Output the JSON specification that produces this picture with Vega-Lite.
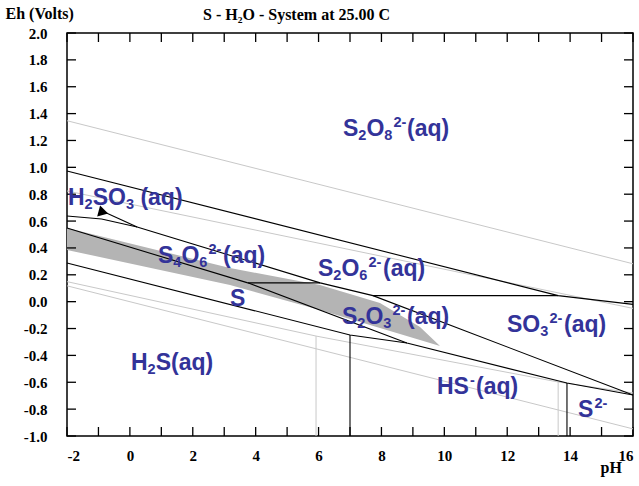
{
  "$schema": "https://vega.github.io/schema/vega-lite/v6.json",
  "width": 566,
  "height": 403,
  "autosize": "none",
  "padding": {"left": 67, "top": 33, "right": 6, "bottom": 50},
  "background": "white",
  "config": {
    "view": {"stroke": "black", "strokeWidth": 1.5},
    "locale": {"number": {"decimal": ".", "thousands": ",", "grouping": [3], "currency": ["$", ""], "minus": "-"}},
    "axis": {
      "grid": false, "domain": false,
      "labelColor": "black", "labelFont": "Liberation Serif", "labelFontWeight": "bold", "labelFontSize": 15,
      "titleFont": "Liberation Serif", "titleFontWeight": "bold", "titleFontSize": 16, "titleColor": "black"
    }
  },
  "title": {"text": "S - H₂O - System at 25.00 C", "anchor": "start", "frame": "group", "dx": 136, "offset": 15, "dy": 46,
    "font": "Liberation Serif", "fontSize": 16, "fontWeight": "bold", "color": "black", "baseline": "alphabetic"},
  "datasets": {
    "band": [
      {"pH": -2, "top": 0.548, "bot": 0.385},
      {"pH": 3.184, "top": 0.251, "bot": 0.124},
      {"pH": 6.046, "top": 0.124, "bot": -0.062},
      {"pH": 7.954, "top": -0.01, "bot": -0.196},
      {"pH": 8.59, "top": -0.0995, "bot": -0.241},
      {"pH": 9.226, "top": -0.189, "bot": -0.285},
      {"pH": 9.862, "top": -0.33, "bot": -0.33}
    ],
    "xt": [{"v": -2}, {"v": -1}, {"v": 0}, {"v": 1}, {"v": 2}, {"v": 3}, {"v": 4}, {"v": 5}, {"v": 6}, {"v": 7}, {"v": 8}, {"v": 9}, {"v": 10}, {"v": 11}, {"v": 12}, {"v": 13}, {"v": 14}, {"v": 15}, {"v": 16}],
    "yt": [{"v": -1}, {"v": -0.8}, {"v": -0.6}, {"v": -0.4}, {"v": -0.2}, {"v": 0}, {"v": 0.2}, {"v": 0.4}, {"v": 0.6}, {"v": 0.8}, {"v": 1}, {"v": 1.2}, {"v": 1.4}, {"v": 1.6}, {"v": 1.8}, {"v": 2}],
    "gray": [
      {"id": "g1", "o": 1, "pH": -2, "Eh": 1.347}, {"id": "g1", "o": 2, "pH": 16, "Eh": 0.282},
      {"id": "g2", "o": 1, "pH": -2, "Eh": 0.824}, {"id": "g2", "o": 2, "pH": 16, "Eh": -0.05},
      {"id": "g3", "o": 1, "pH": -2, "Eh": 0.149}, {"id": "g3", "o": 2, "pH": 5.92, "Eh": -0.256},
      {"id": "g3", "o": 3, "pH": 13.62, "Eh": -0.598}, {"id": "g3", "o": 4, "pH": 16, "Eh": -0.68},
      {"id": "g4", "o": 1, "pH": -2, "Eh": 0.118}, {"id": "g4", "o": 2, "pH": 16, "Eh": -0.947},
      {"id": "g5", "o": 1, "pH": 5.92, "Eh": -0.256}, {"id": "g5", "o": 2, "pH": 5.92, "Eh": -1},
      {"id": "g6", "o": 1, "pH": 13.62, "Eh": -0.598}, {"id": "g6", "o": 2, "pH": 13.62, "Eh": -1}
    ],
    "black": [
      {"id": "b1", "o": 1, "pH": -2, "Eh": 0.973}, {"id": "b1", "o": 2, "pH": 13.62, "Eh": 0.045}, {"id": "b1", "o": 3, "pH": 16, "Eh": -0.02},
      {"id": "b2", "o": 1, "pH": 7.73, "Eh": 0.045}, {"id": "b2", "o": 2, "pH": 13.62, "Eh": 0.045},
      {"id": "b3", "o": 1, "pH": 0.23, "Eh": 0.556}, {"id": "b3", "o": 2, "pH": 6.05, "Eh": 0.14},
      {"id": "b3", "o": 3, "pH": 7.73, "Eh": 0.045}, {"id": "b3", "o": 4, "pH": 16, "Eh": -0.695},
      {"id": "b4", "o": 1, "pH": 3.75, "Eh": 0.14}, {"id": "b4", "o": 2, "pH": 6.05, "Eh": 0.14},
      {"id": "b5", "o": 1, "pH": -2, "Eh": 0.548}, {"id": "b5", "o": 2, "pH": 3.75, "Eh": 0.14},
      {"id": "b6", "o": 1, "pH": 3.75, "Eh": 0.14}, {"id": "b6", "o": 2, "pH": 8.81, "Eh": -0.308},
      {"id": "b6", "o": 3, "pH": 13.9, "Eh": -0.606}, {"id": "b6", "o": 4, "pH": 16, "Eh": -0.695},
      {"id": "b7", "o": 1, "pH": -2, "Eh": 0.288}, {"id": "b7", "o": 2, "pH": 7.0, "Eh": -0.248}, {"id": "b7", "o": 3, "pH": 8.81, "Eh": -0.308},
      {"id": "b8", "o": 1, "pH": 7.0, "Eh": -0.248}, {"id": "b8", "o": 2, "pH": 7.0, "Eh": -1},
      {"id": "b9", "o": 1, "pH": 13.9, "Eh": -0.606}, {"id": "b9", "o": 2, "pH": 13.9, "Eh": -1},
      {"id": "b10", "o": 1, "pH": -2, "Eh": 0.638}, {"id": "b10", "o": 2, "pH": -0.9, "Eh": 0.615}, {"id": "b10", "o": 3, "pH": 0.23, "Eh": 0.556},
      {"id": "b11", "o": 1, "pH": 0.23, "Eh": 0.556}, {"id": "b11", "o": 2, "pH": -0.85, "Eh": 0.672}
    ],
    "arrow": [{"pH": -0.93, "Eh": 0.66}],
    "main": [
      {"t": "S", "pH": 6.778, "Eh": 1.233}, {"t": "O", "pH": 7.522, "Eh": 1.233}, {"t": "(aq)", "pH": 8.813, "Eh": 1.233},
      {"t": "H", "pH": -1.968, "Eh": 0.72}, {"t": "SO", "pH": -1.183, "Eh": 0.72}, {"t": "(aq)", "pH": 0.334, "Eh": 0.72},
      {"t": "S", "pH": 0.894, "Eh": 0.288}, {"t": "O", "pH": 1.638, "Eh": 0.288}, {"t": "(aq)", "pH": 2.961, "Eh": 0.288},
      {"t": "S", "pH": 5.982, "Eh": 0.191}, {"t": "O", "pH": 6.727, "Eh": 0.191}, {"t": "(aq)", "pH": 8.05, "Eh": 0.191},
      {"t": "S", "pH": 3.184, "Eh": -0.032},
      {"t": "S", "pH": 6.746, "Eh": -0.166}, {"t": "O", "pH": 7.49, "Eh": -0.166}, {"t": "(aq)", "pH": 8.813, "Eh": -0.166},
      {"t": "SO", "pH": 11.993, "Eh": -0.226}, {"t": "(aq)", "pH": 13.806, "Eh": -0.226},
      {"t": "H", "pH": 0.035, "Eh": -0.509}, {"t": "S(aq)", "pH": 0.821, "Eh": -0.509},
      {"t": "HS", "pH": 9.767, "Eh": -0.687}, {"t": "(aq)", "pH": 11.007, "Eh": -0.687},
      {"t": "S", "pH": 14.251, "Eh": -0.859}
    ],
    "sub": [
      {"t": "2", "pH": 7.264, "Eh": 1.233}, {"t": "8", "pH": 8.091, "Eh": 1.233},
      {"t": "2", "pH": -1.44, "Eh": 0.72}, {"t": "3", "pH": -0.127, "Eh": 0.72},
      {"t": "4", "pH": 1.381, "Eh": 0.288}, {"t": "6", "pH": 2.207, "Eh": 0.288},
      {"t": "2", "pH": 6.469, "Eh": 0.191}, {"t": "6", "pH": 7.296, "Eh": 0.191},
      {"t": "2", "pH": 7.232, "Eh": -0.166}, {"t": "3", "pH": 8.059, "Eh": -0.166},
      {"t": "3", "pH": 13.049, "Eh": -0.226},
      {"t": "2", "pH": 0.563, "Eh": -0.509}
    ],
    "sup": [
      {"t": "2-", "pH": 8.383, "Eh": 1.233}, {"t": "2-", "pH": 2.5, "Eh": 0.288}, {"t": "2-", "pH": 7.588, "Eh": 0.191},
      {"t": "2-", "pH": 8.352, "Eh": -0.166}, {"t": "2-", "pH": 13.342, "Eh": -0.226}, {"t": "-", "pH": 10.816, "Eh": -0.687},
      {"t": "2-", "pH": 14.773, "Eh": -0.859}
    ]
  },
  "layer": [
    {
      "data": {"name": "band"},
      "mark": {"type": "area", "color": "#b4b4b4"},
      "encoding": {
        "x": {"field": "pH", "type": "quantitative", "scale": {"domain": [-2, 16], "nice": false, "zero": false},
          "axis": {"orient": "bottom", "values": [-2,-1,0,1,2,3,4,5,6,7,8,9,10,11,12,13,14,15,16], "format": "d",
            "labelExpr": "datum.value % 2 === 0 ? datum.label : ''", "tickSize": -9, "tickOpacity": 0, "labelPadding": 21,
            "labelFont": "Liberation Serif", "titleFont": "Liberation Serif",
            "title": "pH", "titleX": 533, "titleY": 36, "titleAlign": "left", "titleBaseline": "alphabetic"}},
        "y": {"field": "top", "type": "quantitative", "scale": {"domain": [-1, 2], "nice": false, "zero": false},
          "axis": {"orient": "left", "values": [-1,-0.8,-0.6,-0.4,-0.2,0,0.2,0.4,0.6,0.8,1,1.2,1.4,1.6,1.8,2], "format": ".1f",
            "tickSize": -9, "tickOpacity": 0, "labelPadding": 29, "labelFont": "Liberation Serif", "titleFont": "Liberation Serif",
            "title": "Eh (Volts)", "titleAngle": 0, "titleX": -62, "titleY": -15,
            "titleAlign": "left", "titleBaseline": "alphabetic"}},
        "y2": {"field": "bot"}
      }
    },
    {
      "data": {"name": "xt"},
      "mark": {"type": "rule", "color": "black", "strokeWidth": 1.3},
      "encoding": {
        "x": {"field": "v", "type": "quantitative", "axis": null},
        "y": {"datum": -1, "type": "quantitative", "axis": null},
        "y2": {"datum": -0.933}
      }
    },
    {
      "data": {"name": "xt"},
      "mark": {"type": "rule", "color": "black", "strokeWidth": 1.3},
      "encoding": {
        "x": {"field": "v", "type": "quantitative", "axis": null},
        "y": {"datum": 2, "type": "quantitative", "axis": null},
        "y2": {"datum": 1.933}
      }
    },
    {
      "data": {"name": "yt"},
      "mark": {"type": "rule", "color": "black", "strokeWidth": 1.3},
      "encoding": {
        "y": {"field": "v", "type": "quantitative", "axis": null},
        "x": {"datum": -2, "type": "quantitative", "axis": null},
        "x2": {"datum": -1.714}
      }
    },
    {
      "data": {"name": "yt"},
      "mark": {"type": "rule", "color": "black", "strokeWidth": 1.3},
      "encoding": {
        "y": {"field": "v", "type": "quantitative", "axis": null},
        "x": {"datum": 16, "type": "quantitative", "axis": null},
        "x2": {"datum": 15.714}
      }
    },
    {
      "data": {"name": "gray"},
      "mark": {"type": "line", "color": "#c8c8c8", "strokeWidth": 1},
      "encoding": {
        "x": {"field": "pH", "type": "quantitative", "axis": null},
        "y": {"field": "Eh", "type": "quantitative", "axis": null},
        "detail": {"field": "id"},
        "order": {"field": "o"}
      }
    },
    {
      "data": {"name": "black"},
      "mark": {"type": "line", "color": "black", "strokeWidth": 1.1},
      "encoding": {
        "x": {"field": "pH", "type": "quantitative", "axis": null},
        "y": {"field": "Eh", "type": "quantitative", "axis": null},
        "detail": {"field": "id"},
        "order": {"field": "o"}
      }
    },
    {
      "data": {"name": "arrow"},
      "mark": {"type": "point", "shape": "triangle-up", "filled": true, "color": "black", "opacity": 1, "size": 130, "angle": 225},
      "encoding": {
        "x": {"field": "pH", "type": "quantitative", "axis": null},
        "y": {"field": "Eh", "type": "quantitative", "axis": null}
      }
    },
    {
      "data": {"name": "main"},
      "mark": {"type": "text", "align": "left", "baseline": "alphabetic", "font": "Liberation Sans", "fontWeight": "bold", "fontSize": 23, "color": "#333399"},
      "encoding": {
        "x": {"field": "pH", "type": "quantitative", "axis": null},
        "y": {"field": "Eh", "type": "quantitative", "axis": null},
        "text": {"field": "t"}
      }
    },
    {
      "data": {"name": "sub"},
      "mark": {"type": "text", "align": "left", "baseline": "alphabetic", "font": "Liberation Sans", "fontWeight": "bold", "fontSize": 14.5, "dy": 4, "color": "#333399"},
      "encoding": {
        "x": {"field": "pH", "type": "quantitative", "axis": null},
        "y": {"field": "Eh", "type": "quantitative", "axis": null},
        "text": {"field": "t"}
      }
    },
    {
      "data": {"name": "sup"},
      "mark": {"type": "text", "align": "left", "baseline": "alphabetic", "font": "Liberation Sans", "fontWeight": "bold", "fontSize": 14.5, "dy": -9, "color": "#333399"},
      "encoding": {
        "x": {"field": "pH", "type": "quantitative", "axis": null},
        "y": {"field": "Eh", "type": "quantitative", "axis": null},
        "text": {"field": "t"}
      }
    }
  ],
  "resolve": {"axis": {"x": "independent", "y": "independent"}}
}
